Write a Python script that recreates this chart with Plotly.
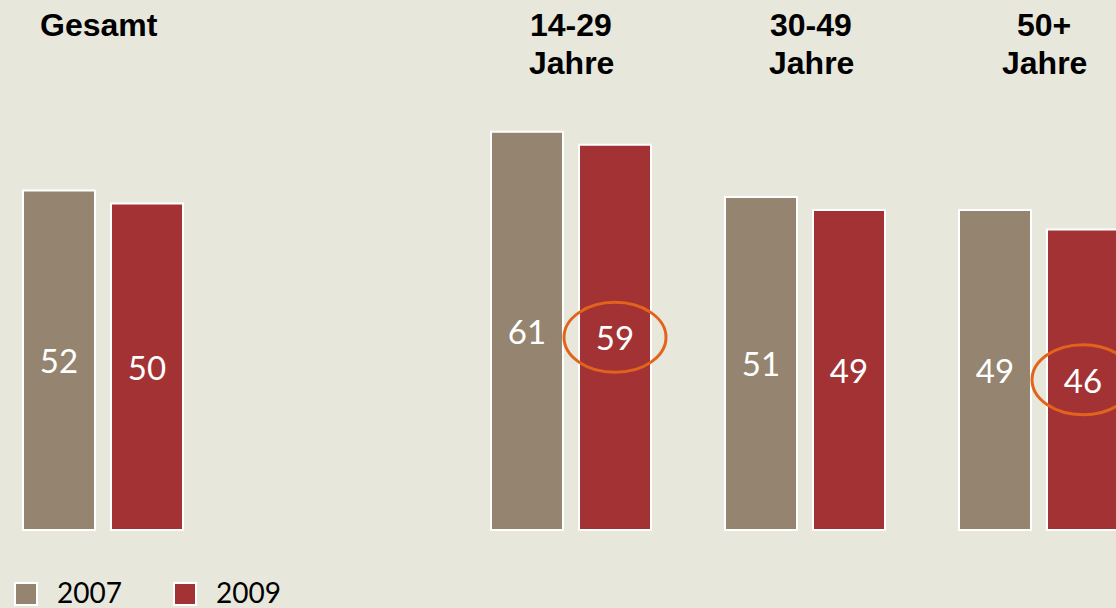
import plotly.graph_objects as go

# ---- data ----
groups = ["Gesamt", "14-29<br>Jahre", "30-49<br>Jahre", "50+<br>Jahre"]
group_pos = [0, 2, 3, 4]          # Gesamt separated by an empty slot
years = ["2007", "2009"]
values_2007 = [52, 61, 51, 49]
values_2009 = [50, 59, 49, 46]
highlight_2009 = [False, True, False, True]

# ---- style ----
BG = "#E8E7DC"
C2007 = "#958470"
C2009 = "#A33234"
ORANGE = "#E2641C"
W, H = 1116, 608
UNIT = 234.0                      # px per group step
BAR_W = 72 / UNIT
HALF_GAP = 44 / UNIT
X_LEFT = 103.0                    # px position of group 0
BASE_PX = 530.0
PX_PER_VAL = 6.53

x_range = [-X_LEFT / UNIT, (W - X_LEFT) / UNIT]
y_range = [-(H - BASE_PX) / PX_PER_VAL, BASE_PX / PX_PER_VAL]

fig = go.Figure()
label_font = dict(family="Lato, 'Noto Sans', sans-serif", size=33, color="white")

fig.add_trace(go.Bar(
    x=group_pos, y=values_2007, name=years[0],
    width=BAR_W, offset=-HALF_GAP - BAR_W / 2,
    marker=dict(color=C2007, line=dict(color="white", width=2)),
    text=[str(v) for v in values_2007], textposition="inside",
    insidetextanchor="middle", textfont=label_font, textangle=0,
    constraintext="none", showlegend=False, hoverinfo="skip",
))
fig.add_trace(go.Bar(
    x=group_pos, y=values_2009, name=years[1],
    width=BAR_W, offset=HALF_GAP - BAR_W / 2,
    marker=dict(color=C2009, line=dict(color="white", width=2)),
    text=[str(v) for v in values_2009], textposition="inside",
    insidetextanchor="middle", textfont=label_font, textangle=0,
    constraintext="none", showlegend=False, hoverinfo="skip",
))

shapes = []
# orange ellipses around highlighted 2009 values
for p, v, h in zip(group_pos, values_2009, highlight_2009):
    if h:
        shapes.append(dict(
            type="circle", xref="x", yref="y",
            xsizemode="pixel", ysizemode="pixel",
            xanchor=p + HALF_GAP, yanchor=v / 2,
            x0=-51, x1=51, y0=-35, y1=35,
            line=dict(color=ORANGE, width=3), layer="above",
        ))

annotations = []
title_font = dict(family="'Liberation Sans', Arial, sans-serif", size=32, color="black")
title_xshift = [-4, 0, 6, 5]
line_y = [25, 63]                 # px centre of each title line
for p, g, xs in zip(group_pos, groups, title_xshift):
    for i, line in enumerate(g.split("<br>")):
        annotations.append(dict(
            x=p, xref="x", y=(H - line_y[i]) / H, yref="paper", yanchor="middle",
            xshift=xs, text=f"<b>{line}</b>", showarrow=False, align="center",
            font=title_font,
        ))

# legend (manual swatches)
leg_items = [(years[0], C2007, 15), (years[1], C2009, 174)]
for name, col, x0 in leg_items:
    shapes.append(dict(
        type="rect", xref="paper", yref="paper",
        x0=x0 / W, x1=(x0 + 22) / W, y0=(H - 605) / H, y1=(H - 583) / H,
        fillcolor=col, line=dict(color="white", width=2),
    ))
    annotations.append(dict(
        x=(x0 + 40) / W, xref="paper", y=(H - 592) / H, yref="paper",
        xanchor="left", yanchor="middle", text=name, showarrow=False,
        font=dict(family="Lato, 'Noto Sans', sans-serif", size=28, color="black"),
    ))

fig.update_layout(
    width=W, height=H,
    margin=dict(l=0, r=0, t=0, b=0),
    paper_bgcolor=BG, plot_bgcolor=BG,
    barmode="overlay",
    xaxis=dict(range=x_range, visible=False, fixedrange=True),
    yaxis=dict(range=y_range, visible=False, fixedrange=True),
    shapes=shapes, annotations=annotations,
    showlegend=False,
)

fig.write_html(
    "out.html",
    config={"displayModeBar": False},
    post_script="document.body.style.margin='0';document.body.style.background='%s';" % BG,
)
